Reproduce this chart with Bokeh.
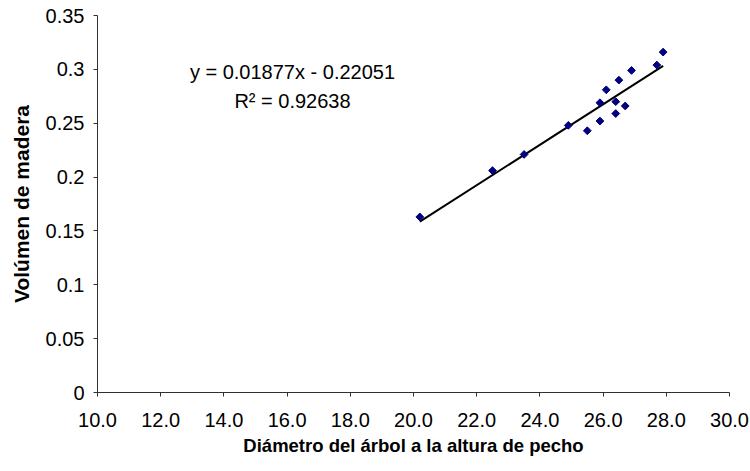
from bokeh.plotting import figure
from bokeh.models import Range1d, FixedTicker, Label
from bokeh.embed import file_html
from bokeh.resources import INLINE

# Tree diameter at breast height vs. timber volume
diametro = [20.2, 22.5, 23.5, 24.9, 25.5, 25.9, 25.9, 26.1, 26.4, 26.4, 26.5, 26.7, 26.9, 27.7, 27.9]
volumen = [0.163, 0.206, 0.221, 0.248, 0.243, 0.252, 0.269, 0.281, 0.270, 0.259, 0.290, 0.266, 0.299, 0.304, 0.316]

# Linear trend line coefficients
pendiente = 0.01877
intercepto = -0.22051
r2 = 0.92638

x_ticks = [10, 12, 14, 16, 18, 20, 22, 24, 26, 28, 30]
x_tick_labels = ["10.0", "12.0", "14.0", "16.0", "18.0", "20.0", "22.0", "24.0", "26.0", "28.0", "30.0"]
y_ticks = [0, 0.05, 0.1, 0.15, 0.2, 0.25, 0.3, 0.35]
y_tick_labels = ["0", "0.05", "0.1", "0.15", "0.2", "0.25", "0.3", "0.35"]

FONT = "Liberation Sans"

p = figure(width=750, height=471, output_backend="svg", toolbar_location=None,
           x_range=Range1d(10, 30), y_range=Range1d(0, 0.35),
           min_border_left=97, min_border_right=21, min_border_top=15, min_border_bottom=79)
p.outline_line_color = None
p.xgrid.visible = False
p.ygrid.visible = False

for ax in (p.xaxis, p.yaxis):
    ax.axis_line_color = "#303030"
    ax.major_tick_line_color = "#303030"
    ax.major_tick_out = 4
    ax.major_tick_in = 0
    ax.minor_tick_line_color = None
    ax.major_label_text_font = FONT
    ax.major_label_text_font_size = "20px"
    ax.major_label_text_color = "black"
    ax.axis_label_text_font = FONT
    ax.axis_label_text_font_style = "bold"
    ax.axis_label_text_color = "black"

p.xaxis.axis_label_text_font_size = "18.5px"
p.yaxis.axis_label_text_font_size = "21px"

p.xaxis.ticker = FixedTicker(ticks=x_ticks)
p.xaxis.major_label_overrides = {t: s for t, s in zip(x_ticks, x_tick_labels)}
p.yaxis.ticker = FixedTicker(ticks=y_ticks)
p.yaxis.major_label_overrides = {t: s for t, s in zip(y_ticks, y_tick_labels)}
p.xaxis.axis_label = "Diámetro del árbol a la altura de pecho"
p.yaxis.axis_label = "Volúmen de madera"
p.xaxis.major_label_standoff = 16
p.xaxis.axis_label_standoff = 5
p.yaxis.major_label_standoff = 9
p.yaxis.axis_label_standoff = 10

# Trend line over the span of the observations
x0, x1 = min(diametro), max(diametro)
p.line([x0, x1], [pendiente * x0 + intercepto, pendiente * x1 + intercepto],
       line_color="black", line_width=2)

p.scatter(diametro, volumen, marker="square", angle=0.785398, size=5.5,
          fill_color="#000080", line_color="#000080")

# Trend line equation and R², centred on each other
eq = Label(x=16.17, y=0.298, text=f"y = {pendiente:.5f}x - {abs(intercepto):.5f}",
           text_font=FONT, text_font_size="20px", text_color="black",
           text_align="center", text_baseline="middle")
r2_label = Label(x=16.17, y=0.271, text=f"R² = {r2:.5f}",
                 text_font=FONT, text_font_size="20px", text_color="black",
                 text_align="center", text_baseline="middle")
p.add_layout(eq)
p.add_layout(r2_label)

open("out.html", "w").write(file_html(p, INLINE))
